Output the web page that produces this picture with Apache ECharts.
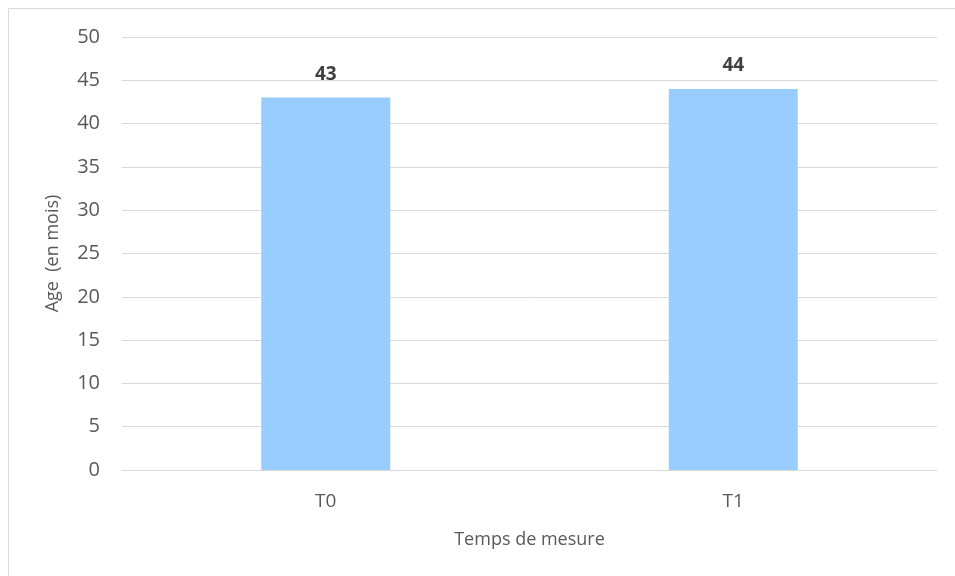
<!DOCTYPE html>
<html>
<head>
<meta charset="utf-8">
<script src="https://cdn.jsdelivr.net/npm/echarts@6/dist/echarts.min.js"></script>
<style>
  html, body { margin: 0; padding: 0; background: #fff; }
  #chart { width: 955px; height: 576px; }
</style>
</head>
<body>
<div id="chart"></div>
<script>
// Mean age per measurement time
const categories = ['T0', 'T1'];
const ageValues = [43, 44];
const yTicks = { min: 0, max: 50, interval: 5 };

const chart = echarts.init(document.getElementById('chart'), null, { renderer: 'canvas' });
const font = '"Open Sans", "DejaVu Sans", sans-serif';

chart.setOption({
  animation: false,
  backgroundColor: '#ffffff',
  graphic: [{
    type: 'rect',
    shape: { x: 8.5, y: 8.5, width: 980, height: 600 },
    style: { fill: 'none', stroke: '#d9d9d9', lineWidth: 1 },
    silent: true
  }],
  grid: { left: 122, right: 18, top: 37, bottom: 106, containLabel: false },
  xAxis: {
    type: 'category',
    data: categories,
    axisLine: { show: true, lineStyle: { color: '#d9d9d9', width: 1 } },
    axisTick: { show: false },
    axisLabel: { color: '#595959', fontSize: 19, fontFamily: font, margin: 22 },
    name: 'Temps de mesure',
    nameLocation: 'middle',
    nameGap: 61,
    nameTextStyle: { color: '#595959', fontSize: 18, fontFamily: font }
  },
  yAxis: {
    type: 'value',
    min: yTicks.min,
    max: yTicks.max,
    interval: yTicks.interval,
    axisLine: { show: false },
    axisTick: { show: false },
    splitLine: { lineStyle: { color: '#d9d9d9', width: 1 } },
    axisLabel: { color: '#595959', fontSize: 20, fontFamily: font, margin: 22 },
    name: 'Age  (en mois)',
    nameLocation: 'middle',
    nameGap: 60,
    nameTextStyle: { color: '#595959', fontSize: 18, fontFamily: font }
  },
  series: [{
    type: 'bar',
    data: ageValues,
    barWidth: 129,
    itemStyle: { color: '#99ccff' },
    label: {
      show: true,
      position: 'top',
      distance: 14,
      color: '#404040',
      fontSize: 19,
      fontWeight: 'bold',
      fontFamily: font
    }
  }]
});
</script>
</body>
</html>
